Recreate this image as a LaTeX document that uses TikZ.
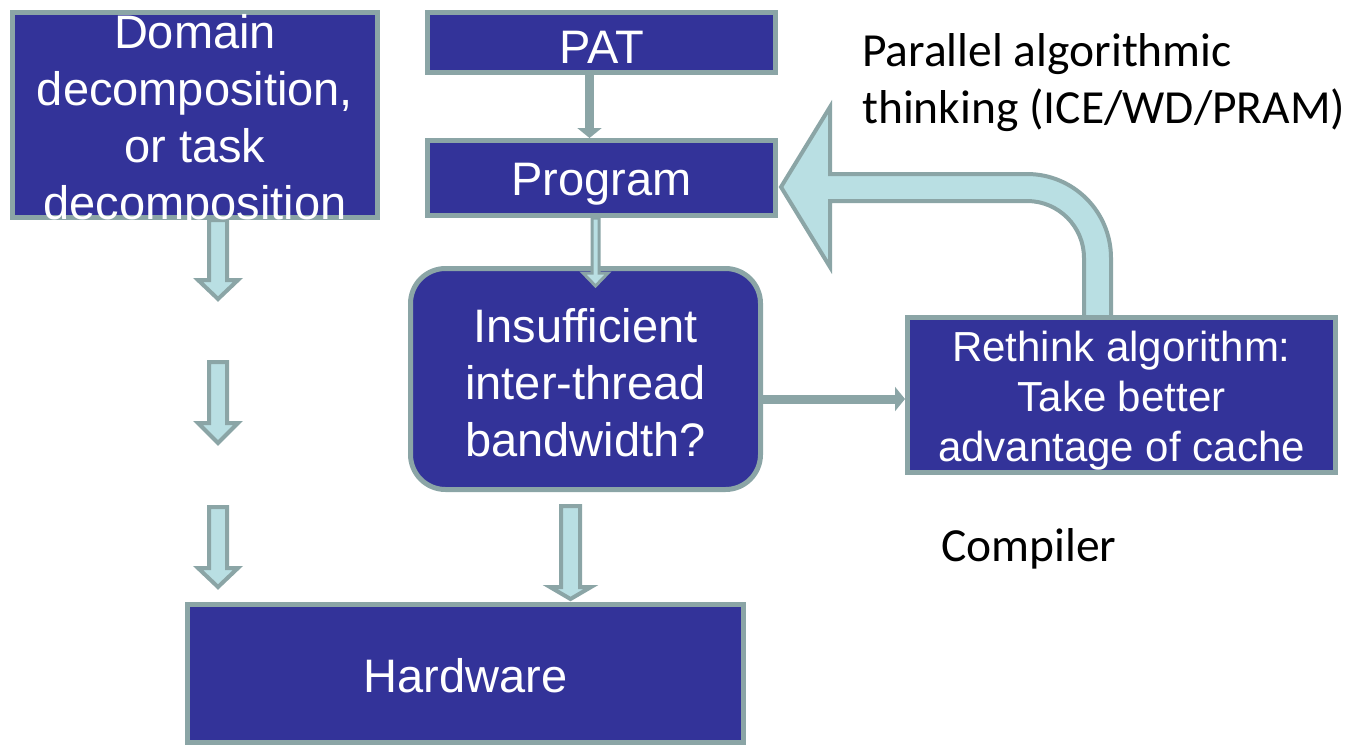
\documentclass[tikz,border=0pt]{standalone}
\usepackage{fontspec}
\setmainfont{Liberation Sans}
\newfontfamily\calfont{Carlito}
\usetikzlibrary{arrows.meta,calc}
\definecolor{boxblue}{RGB}{51,51,153}
\definecolor{bord}{RGB}{139,165,166}
\definecolor{afill}{RGB}{185,223,227}
\begin{document}
\begin{tikzpicture}[x=1pt,y=-1pt,
  box/.style={draw=bord, fill=boxblue, line width=5pt, text=white, inner sep=0pt, align=center, font=\fontsize{47}{57}\selectfont},
  boxtext/.style={text=white, inner sep=0pt, align=center, font=\fontsize{47}{57}\selectfont},
  blk/.style={draw=bord, fill=afill, line width=4pt, line join=miter},
  conn/.style={draw=bord, line width=9pt, -{Triangle[length=10pt,width=24pt]}},
  lbl/.style={font=\calfont\fontsize{47.5}{57}\selectfont, text=black, inner sep=0pt, align=left}]
\useasboundingbox (0,0) rectangle (1351,747);

% block arrows behind the boxes
\path[blk] (209,220) -- (209,280) -- (198,280) -- (218,299) -- (238,280) -- (227,280) -- (227,220) -- cycle;
\path[blk] (209,362) -- (209,423) -- (198,423) -- (218,443) -- (238,423) -- (227,423) -- (227,362) -- cycle;
\path[blk] (209,507) -- (209,568) -- (198,568) -- (218,587) -- (238,568) -- (227,568) -- (227,507) -- cycle;

% big return arrow
\path[blk] (1111,318) -- (1111,258) arc[start angle=0, end angle=-90, radius=84]
  -- (830,174) -- (830,107) -- (781,187) -- (830,267) -- (830,201)
  -- (1027,201) arc[start angle=-90, end angle=0, radius=57] -- (1084,318) -- cycle;

% boxes
\node[box, minimum width=365pt, minimum height=205pt] (dom) at (195,115) {};
\node[box, minimum width=348pt, minimum height=60pt, text height=41pt] (pat) at (601.5,42.5) {PAT};
\node[box, minimum width=348pt, minimum height=75pt, text height=44pt] (prog) at (601.5,178) {Program};
\node[box, rounded corners=35pt, minimum width=350pt, minimum height=221pt, text height=155pt] (ins) at (585.5,379) {Insufficient\\inter-thread\\bandwidth?};
\node[box, minimum width=428pt, minimum height=155pt, text height=141pt, font=\fontsize{42}{50}\selectfont] (ret) at (1121.5,395) {Rethink algorithm:\\Take better\\advantage of cache};
\node[box, minimum width=556pt, minimum height=138pt, text height=39pt] (hw) at (465.5,673.5) {Hardware};

\node[boxtext] (domtxt) at (195,122) {Domain\\decomposition,\\or task\\decomposition};

% block arrows on top
\path[blk, line width=3pt] (592,218) -- (592,273) -- (583,273) -- (595.5,286) -- (608,273) -- (599,273) -- (599,218) -- cycle;
\path[blk] (561,506) -- (561,587) -- (550,587) -- (570.5,599) -- (591,587) -- (580,587) -- (580,506) -- cycle;

% thin connectors
\draw[conn] ([xshift=-12pt]pat.south) -- ([xshift=-12pt]prog.north);
\draw[conn] ([yshift=-20pt]ins.east) -- ([yshift=-20pt]ins.east -| ret.west);

% labels
\node[lbl, anchor=north west] (par) at (862,33) {Parallel algorithmic\\thinking (ICE/WD/PRAM)};
\node[lbl, anchor=base west] (comp) at (941,561) {Compiler};
\end{tikzpicture}
\end{document}
